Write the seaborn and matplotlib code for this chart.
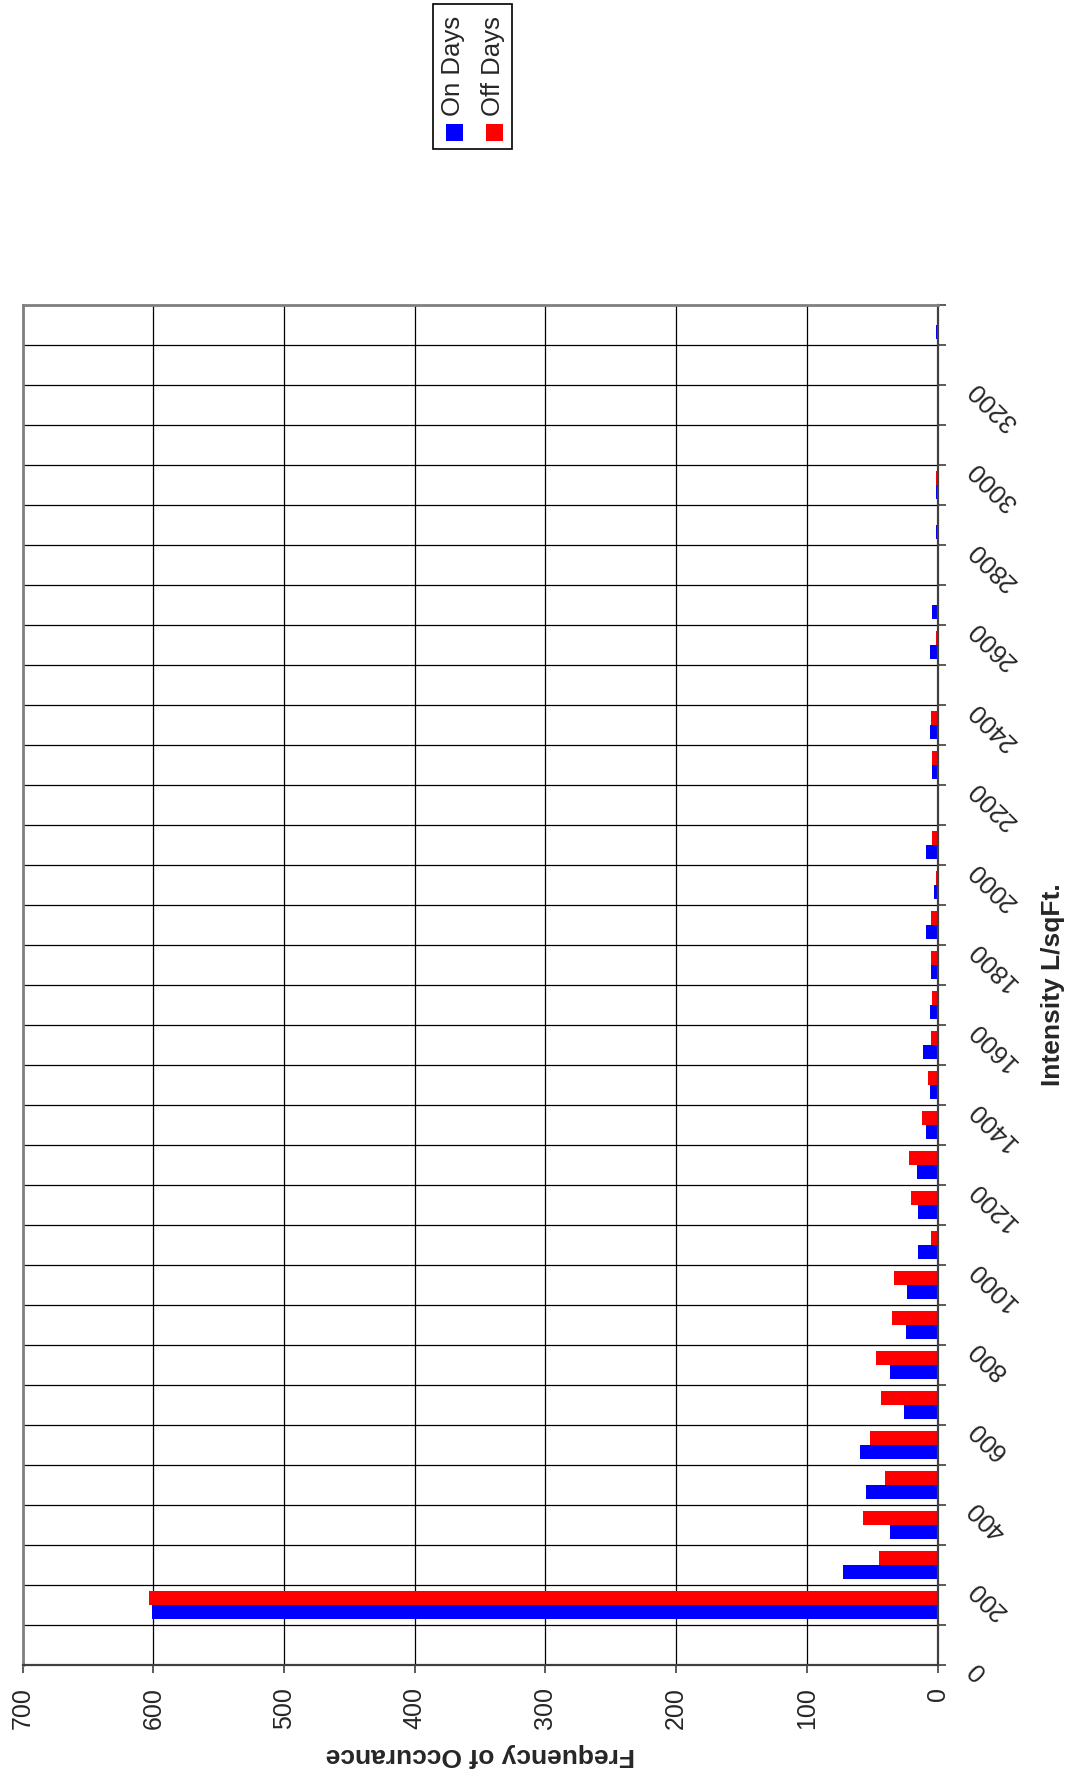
import numpy as np
import pandas as pd
import matplotlib
matplotlib.use("Agg")
import matplotlib.pyplot as plt
from matplotlib.patches import Rectangle
import seaborn as sns

# bins of 100 L/sqFt (lower bound), counts per bin
bins = [0, 100, 200, 300, 400, 500, 600, 700, 800, 900,
        1000, 1100, 1200, 1300, 1400, 1500, 1600, 1700, 1800, 1900,
        2000, 2100, 2200, 2300, 2400, 2500, 2600, 2700, 2800, 2900,
        3000, 3100, 3200, 3300]
on_days = [0, 601, 72, 36, 55, 59, 26, 36, 24, 23,
           15, 15, 16, 9, 6, 11, 6, 5, 9, 3,
           9, 0, 4, 6, 0, 6, 4, 0, 1, 1,
           0, 0, 0, 1]
off_days = [0, 603, 45, 57, 40, 52, 43, 47, 35, 33,
            5, 20, 22, 12, 7, 5, 4, 5, 5, 1,
            4, 0, 4, 5, 0, 1, 0, 0, 0, 1,
            0, 0, 0, 0]
series = ["On Days", "Off Days"]
colors = ["#0000ff", "#ff0000"]
freq_ticks = [0, 100, 200, 300, 400, 500, 600, 700]
bin_edges = [0, 100, 200, 300, 400, 500, 600, 700, 800, 900,
             1000, 1100, 1200, 1300, 1400, 1500, 1600, 1700, 1800, 1900,
             2000, 2100, 2200, 2300, 2400, 2500, 2600, 2700, 2800, 2900,
             3000, 3100, 3200, 3300, 3400]

df = pd.DataFrame({
    "bin": bins * 2,
    "count": on_days + off_days,
    "series": [series[0]] * len(bins) + [series[1]] * len(bins),
})

sns.set_style("white")
plt.rcParams["font.family"] = ["Liberation Sans", "DejaVu Sans"]

fig = plt.figure(figsize=(10.71, 17.75), dpi=100)
ax = fig.add_axes([0.0211, 0.0620, 0.8543, 0.7662])

sns.barplot(data=df, x="count", y="bin", hue="series", hue_order=series,
            palette=colors, orient="h", width=0.7, saturation=1,
            errorbar=None, linewidth=0, legend=False, ax=ax)

ax.set_xlim(700, 0)
ax.set_ylim(-0.5, len(bins) - 0.5)

# frequency axis (bottom)
ax.set_xticks(freq_ticks)
ax.set_xticklabels([str(v) for v in freq_ticks])
ax.tick_params(axis="x", labelrotation=90, labelsize=18, pad=10,
               direction="out", length=6, width=1.2, color="#404040", bottom=True)

# intensity axis (right side, ticks on bin edges)
ax.yaxis.tick_right()
edge_pos = [i - 0.5 for i in range(len(bin_edges))]
edge_labels = [str(e) if (i % 2 == 0 and e < 3400) else "" for i, e in enumerate(bin_edges)]
ax.set_yticks(edge_pos)
ax.set_yticklabels(edge_labels)
ax.tick_params(axis="y", labelsize=18.5, pad=19, direction="out", length=6,
               width=1.2, color="#404040", right=True, left=False)
for lab in ax.get_yticklabels():
    lab.set_rotation(135)
    lab.set_rotation_mode("anchor")
    lab.set_ha("right")
    lab.set_va("center")

ax.grid(True, axis="both", color="black", linewidth=0.9)
ax.set_axisbelow(True)

for side in ["top", "left"]:
    ax.spines[side].set_color("#808080")
    ax.spines[side].set_linewidth(2)
for side in ["right", "bottom"]:
    ax.spines[side].set_color("#404040")
    ax.spines[side].set_linewidth(1.6)

ax.set_xlabel("Frequency of Occurance", fontsize=19, fontweight="bold",
              rotation=180, ha="center", va="center")
ax.xaxis.set_label_coords(0.5, -0.066)
ax.yaxis.set_label_position("right")
ax.set_ylabel("Intensity L/sqFt.", fontsize=19, fontweight="bold",
              rotation=90, ha="center", va="center")
ax.yaxis.set_label_coords(1.126, 0.5)

# legend drawn by hand (rotated entries)
W, H = 1071.0, 1775.0
fig.add_artist(Rectangle((433 / W, 1 - 149 / H), 79 / W, 145 / H,
                         transform=fig.transFigure, facecolor="white",
                         edgecolor="black", linewidth=1.2))
for name, col, cx in zip(series, colors, [454.5, 494.5]):
    fig.add_artist(Rectangle(((cx - 8.5) / W, 1 - 141 / H), 17 / W, 17 / H,
                             transform=fig.transFigure, facecolor=col,
                             edgecolor="none"))
    fig.text((cx - 1.5) / W, 1 - 116 / H, name, rotation=90, fontsize=18.5,
             ha="center", va="bottom")

fig.savefig("out.png", dpi=100)
